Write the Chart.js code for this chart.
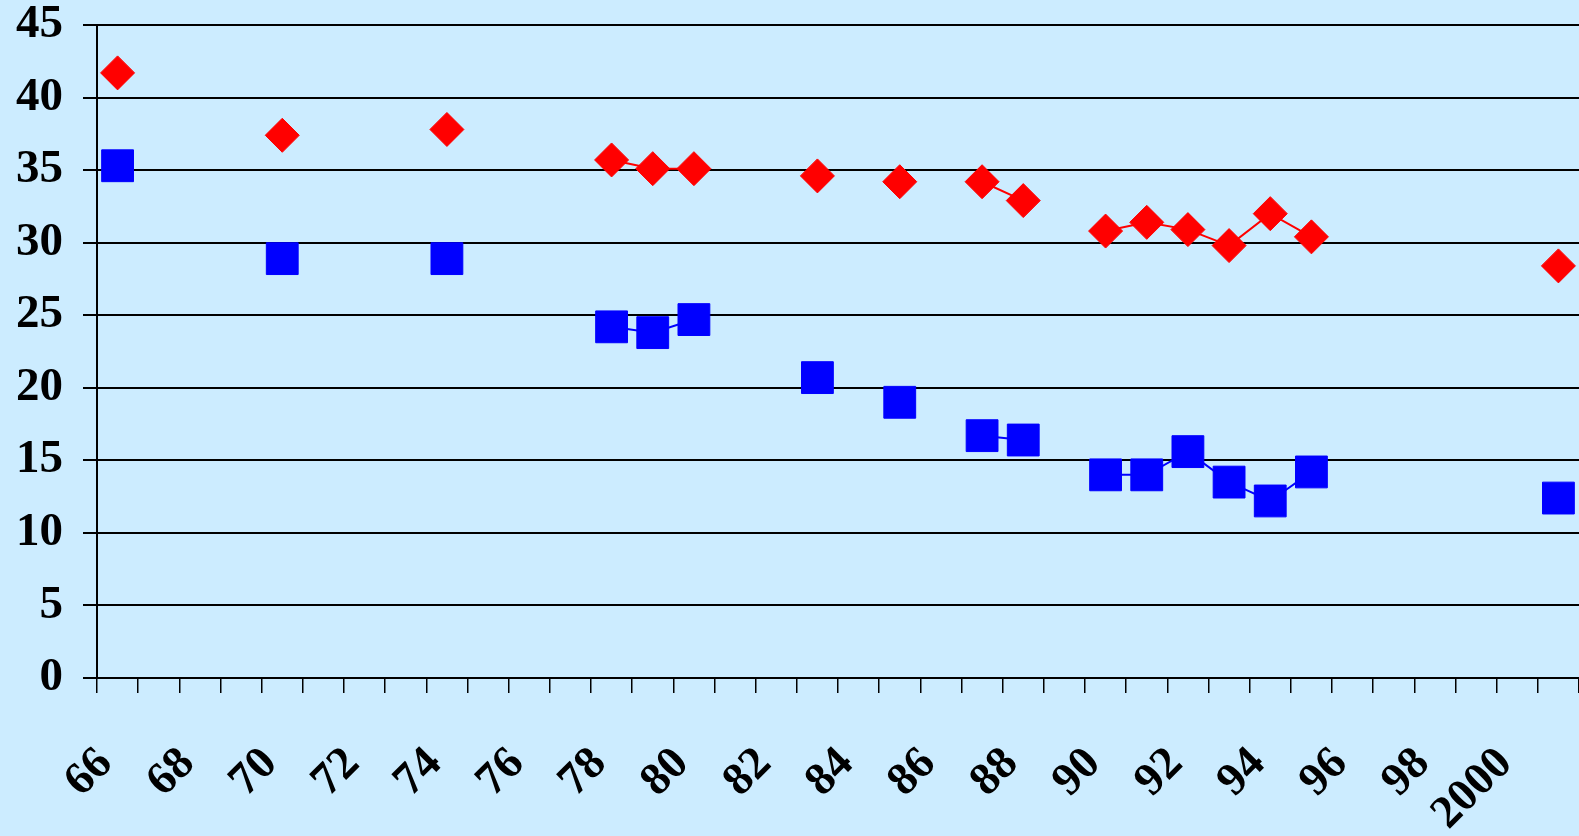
<!DOCTYPE html>
<html>
<head>
<meta charset="utf-8">
<script src="https://cdn.jsdelivr.net/npm/chart.js@4.4.0/dist/chart.umd.min.js"></script>
<style>
  html, body { margin: 0; padding: 0; background: #CCECFF; overflow: hidden; }
  #wrap { width: 1579px; height: 836px; }
</style>
</head>
<body>
<div id="wrap"><canvas id="c" width="1579" height="836"></canvas></div>
<script>
// Categories: one per year, 1966..2001
const years = ['66','67','68','69','70','71','72','73','74','75','76','77','78','79','80','81','82','83','84','85','86','87','88','89','90','91','92','93','94','95','96','97','98','99','2000','2001'];
// Tick labels shown on the x axis (every other year)
const tickLabels = ['66','','68','','70','','72','','74','','76','','78','','80','','82','','84','','86','','88','','90','','92','','94','','96','','98','','2000',''];
// Red diamond series
const redSeries = [41.7,null,null,null,37.4,null,null,null,37.8,null,null,null,35.7,35.1,35.1,null,null,34.6,null,34.2,null,34.2,32.9,null,30.8,31.4,30.9,29.8,32.0,30.4,null,null,null,null,null,28.4];
// Blue square series
const blueSeries = [35.3,null,null,null,28.9,null,null,null,28.9,null,null,null,24.2,23.8,24.7,null,null,20.7,null,19.0,null,16.7,16.4,null,14.0,14.0,15.6,13.5,12.2,14.2,null,null,null,null,null,12.4];
// Y axis range and step
const yMin = 0, yMax = 45, yStep = 5;

const serif = '"Liberation Serif", "Times New Roman", serif';

new Chart(document.getElementById('c'), {
  type: 'line',
  data: {
    labels: years,
    datasets: [
      { data: redSeries, borderColor: '#FF0000', backgroundColor: '#FF0000', borderWidth: 2,
        pointStyle: 'rectRot', pointRadius: 17, pointBorderWidth: 1,
        pointBorderColor: '#FF0000', pointBackgroundColor: '#FF0000', spanGaps: false, tension: 0, clip: false },
      { data: blueSeries, borderColor: '#0000FF', backgroundColor: '#0000FF', borderWidth: 2,
        pointStyle: 'rect', pointRadius: 22.5, pointBorderWidth: 1,
        pointBorderColor: '#0000FF', pointBackgroundColor: '#0000FF', spanGaps: false, tension: 0, clip: false }
    ]
  },
  options: {
    responsive: false,
    animation: false,
    devicePixelRatio: 1,
    layout: { autoPadding: false, padding: { top: 25, left: 0, right: 0, bottom: 0 } },
    plugins: { legend: { display: false }, tooltip: { enabled: false } },
    scales: {
      x: {
        type: 'category',
        offset: true,
        grid: { offset: true, drawOnChartArea: false, drawTicks: true, tickLength: 15, color: '#000', lineWidth: 1.5 },
        border: { display: true, color: '#000', width: 2 },
        ticks: {
          autoSkip: false, maxRotation: 45, minRotation: 45, padding: 44, labelOffset: -12,
          color: '#000', font: { family: serif, size: 46, weight: 'bold' },
          callback: (v, i) => tickLabels[i]
        },
        afterFit: (s) => { s.height = 158; s.paddingLeft = 0; s.paddingRight = 0; }
      },
      y: {
        min: yMin, max: yMax,
        ticks: { stepSize: yStep, padding: 20, color: '#000', font: { family: serif, size: 47, weight: 'bold' } },
        grid: { color: '#000', lineWidth: 2, tickLength: 14 },
        border: { display: true, color: '#000', width: 2 },
        afterFit: (s) => { s.width = 97; s.paddingTop = 0; s.paddingBottom = 0; }
      }
    }
  }
});
</script>
</body>
</html>
